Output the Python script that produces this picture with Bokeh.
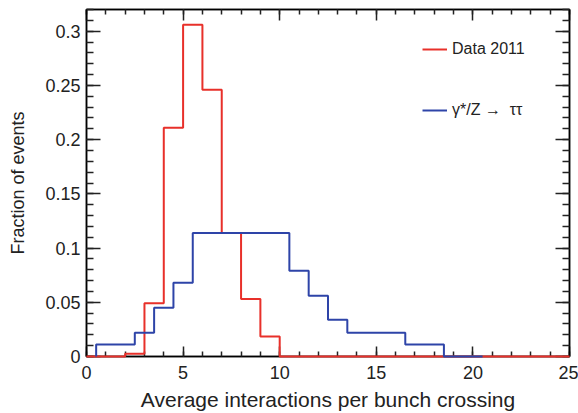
import numpy as np
from bokeh.plotting import figure
from bokeh.models import (LinearAxis, FixedTicker, CustomJSTickFormatter, Legend,
                          LegendItem, Range1d)
from bokeh.embed import file_html
from bokeh.resources import INLINE

# ---- data ----
data_edges = [0, 2, 3, 4, 5, 6, 7, 8, 9, 10, 25]
data_values = [0.0, 0.0025, 0.049, 0.211, 0.306, 0.246, 0.114, 0.053, 0.0185, 0.0]

mc_edges = [0.5, 2.5, 3.5, 4.5, 5.5, 10.5, 11.5, 12.5, 13.5, 16.5, 18.5, 20.5]
mc_values = [0.011, 0.022, 0.045, 0.068, 0.114, 0.079, 0.056, 0.034, 0.022, 0.011, 0.0]

x_ticks = [0, 5, 10, 15, 20, 25]
x_minor = list(range(0, 26))
y_ticks = [0, 0.05, 0.1, 0.15, 0.2, 0.25, 0.3]
y_minor = [round(0.01 * i, 2) for i in range(0, 33)]

labels = ["Data 2011", "\u03b3*/Z \u2192  \u03c4\u03c4"]
colors = ["#e8302a", "#2e44a8"]

FONT = "Liberation Sans"


def step_xy(edges, values):
    xs = np.repeat(np.asarray(edges, float), 2)
    ys = np.concatenate([[0.0], np.repeat(np.asarray(values, float), 2), [0.0]])
    return xs, ys


p = figure(frame_width=483, frame_height=347,
           x_range=Range1d(0, 25), y_range=Range1d(0, 0.32),
           output_backend="svg", toolbar_location=None,
           min_border_left=86, min_border_right=9, min_border_top=9, min_border_bottom=57)
p.xgrid.visible = False
p.ygrid.visible = False
p.outline_line_color = "black"
p.outline_line_width = 1.5
p.background_fill_color = "white"
p.border_fill_color = "white"

rx, ry = step_xy(data_edges, data_values)
bx, by = step_xy(mc_edges, mc_values)
r_data = p.line(rx, ry, line_color=colors[0], line_width=2, level="overlay")
r_mc = p.line(bx, by, line_color=colors[1], line_width=2, level="overlay")

fmt = CustomJSTickFormatter(code="return (Math.round(tick*1000)/1000).toString();")


def style(ax, major_in, minor_in, show_labels=True):
    ax.major_tick_in = major_in
    ax.major_tick_out = 0
    ax.minor_tick_in = minor_in
    ax.minor_tick_out = 0
    ax.axis_line_color = "black"
    ax.axis_line_width = 1.5
    ax.major_tick_line_color = "#222222"
    ax.minor_tick_line_color = "#222222"
    ax.major_tick_line_width = 1.5
    ax.minor_tick_line_width = 1.5
    ax.major_label_text_font = FONT
    ax.major_label_text_font_size = "18px"
    ax.major_label_text_color = "#222222"
    ax.axis_label_text_font = FONT
    ax.axis_label_text_font_size = "18px"
    ax.axis_label_text_font_style = "normal"
    ax.axis_label_text_color = "#222222"
    if not show_labels:
        ax.major_label_standoff = 0
        ax.major_label_text_font_size = "0px"
        ax.major_label_text_color = None
        ax.major_label_text_alpha = 0


xb = p.xaxis[0]
xb.ticker = FixedTicker(ticks=x_ticks, minor_ticks=x_minor)
xb.formatter = fmt
style(xb, 10, 5)
xb.major_label_standoff = 9
xb.axis_label = "Average interactions per bunch crossing"
xb.axis_label_text_font_size = "21px"
xb.axis_label_standoff = 6

yl = p.yaxis[0]
yl.ticker = FixedTicker(ticks=y_ticks, minor_ticks=y_minor)
yl.formatter = fmt
style(yl, 14, 7)
yl.major_label_standoff = 6
yl.axis_label = "Fraction of events"
yl.axis_label_standoff = 14

xt = LinearAxis(ticker=FixedTicker(ticks=x_ticks, minor_ticks=x_minor), formatter=fmt)
style(xt, 11, 5, show_labels=False)
p.add_layout(xt, "above")

yr = LinearAxis(ticker=FixedTicker(ticks=y_ticks, minor_ticks=y_minor), formatter=fmt)
style(yr, 14, 7, show_labels=False)
p.add_layout(yr, "right")

legend = Legend(items=[LegendItem(label=labels[0], renderers=[r_data]),
                       LegendItem(label=labels[1], renderers=[r_mc])],
                location=(336, 236), orientation="vertical",
                padding=0, margin=0, spacing=41,
                glyph_width=25, glyph_height=20, label_height=20, label_standoff=5,
                label_text_font=FONT, label_text_font_size="16px",
                label_text_color="#222222",
                border_line_color=None, background_fill_alpha=0)
p.add_layout(legend, "center")

open("out.html", "w").write(file_html(p, INLINE))
